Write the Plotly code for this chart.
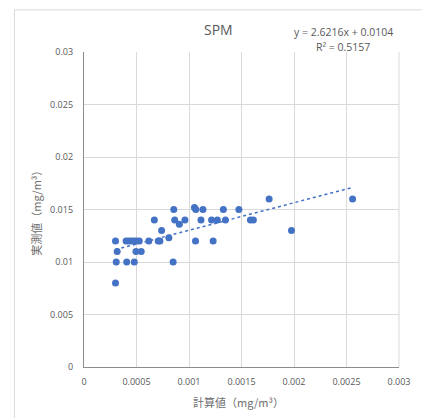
import plotly.graph_objects as go

# Calculated vs. measured SPM concentrations (mg/m3)
x_calc = [0.0003, 0.000316, 0.000307, 0.0003, 0.000401, 0.000426, 0.000451,
          0.000476, 0.000501, 0.000526, 0.000407, 0.000479, 0.000495, 0.000545,
          0.000617, 0.00067, 0.000707, 0.000723, 0.000739, 0.000808, 0.000849,
          0.000855, 0.000864, 0.000908, 0.000961, 0.001052, 0.001065, 0.001062,
          0.001133, 0.001114, 0.00123, 0.001215, 0.00127, 0.001347, 0.001327,
          0.001475, 0.001585, 0.001613, 0.001763, 0.001976, 0.002558]
y_meas = [0.012, 0.011, 0.010, 0.008, 0.012, 0.012, 0.012,
          0.012, 0.012, 0.012, 0.010, 0.010, 0.011, 0.011,
          0.012, 0.014, 0.012, 0.012, 0.013, 0.0123, 0.010,
          0.015, 0.014, 0.0136, 0.014, 0.0152, 0.015, 0.012,
          0.015, 0.014, 0.012, 0.014, 0.014, 0.014, 0.015,
          0.015, 0.014, 0.014, 0.016, 0.013, 0.016]

# Linear trendline coefficients
slope = 2.6216
intercept = 0.0104
r_squared = 0.5157

x_ticks = [0, 0.0005, 0.001, 0.0015, 0.002, 0.0025, 0.003]
x_ticktext = ["0", "0.0005", "0.001", "0.0015", "0.002", "0.0025", "0.003"]
y_ticks = [0, 0.005, 0.01, 0.015, 0.02, 0.025, 0.03]
y_ticktext = ["0", "0.005", "0.01", "0.015", "0.02", "0.025", "0.03"]

BLUE = "#4472C4"
TEXT = "#595959"
TITLE_TEXT = "#6e6e6e"
GRID = "#d9d9d9"
FONT = "Open Sans, Noto Sans CJK JP, sans-serif"
JP_FONT = "Noto Sans CJK JP, sans-serif"

W, H = 422, 418
L, R, T, B = 84, 403.3, 51.7, 367.3


def px_x(px):
    return (px - L) / (R - L)


def px_y(py):
    return (B - py) / (B - T)


trend_x = [min(x_calc), max(x_calc)]
trend_y = [slope * v + intercept for v in trend_x]

fig = go.Figure()
fig.add_trace(go.Scatter(
    x=trend_x, y=trend_y, mode="lines",
    line=dict(color=BLUE, width=1.5, dash="dot"),
    hoverinfo="skip", showlegend=False,
))
fig.add_trace(go.Scatter(
    x=x_calc, y=y_meas, mode="markers",
    marker=dict(color=BLUE, size=7, line=dict(width=0)),
    showlegend=False,
))

fig.update_layout(
    width=W, height=H,
    margin=dict(l=L, r=W - R, t=T, b=H - B),
    paper_bgcolor="white", plot_bgcolor="white",
    font=dict(family=FONT, color=TEXT, size=9),
    xaxis=dict(
        range=[0, 0.003], tickvals=x_ticks, ticktext=x_ticktext,
        showgrid=True, gridcolor=GRID, gridwidth=1,
        showline=True, linecolor="#8c8c8c", linewidth=1.3,
        zeroline=False, ticks="", ticklabelstandoff=6,
        tickfont=dict(size=9, color=TEXT, family=FONT),
        fixedrange=True,
    ),
    yaxis=dict(
        range=[0, 0.03], tickvals=y_ticks, ticktext=y_ticktext,
        showgrid=True, gridcolor=GRID, gridwidth=1,
        showline=True, linecolor="#8c8c8c", linewidth=1.3,
        zeroline=False, ticks="", ticklabelstandoff=8,
        tickfont=dict(size=9, color=TEXT, family=FONT),
        fixedrange=True,
    ),
    shapes=[
        # outer chart border
        dict(type="rect", xref="paper", yref="paper",
             x0=px_x(13.5), x1=px_x(440), y0=px_y(440), y1=px_y(9.5),
             line=dict(color=GRID, width=1), fillcolor="rgba(0,0,0,0)",
             layer="below"),
        # right edge of the plot frame
        dict(type="line", xref="paper", yref="paper", x0=1, x1=1, y0=0, y1=1,
             line=dict(color=GRID, width=1), layer="below"),
    ],
    annotations=[
        dict(text="SPM", xref="paper", yref="paper",
             x=px_x(220), y=px_y(29.5), xanchor="center", yanchor="middle",
             showarrow=False, font=dict(size=14, color=TEXT, family=FONT)),
        dict(text=f"y = {slope}x + {intercept}", xref="paper", yref="paper",
             x=px_x(347), y=px_y(31.7), xanchor="center", yanchor="middle",
             showarrow=False, font=dict(size=10.5, color=TEXT, family=FONT)),
        dict(text=f"R² = {r_squared}", xref="paper", yref="paper",
             x=px_x(347), y=px_y(46.5), xanchor="center", yanchor="middle",
             showarrow=False, font=dict(size=10.5, color=TEXT, family=FONT)),
        dict(text="計算値（mg/m³）", xref="paper", yref="paper",
             x=px_x(241), y=px_y(402), xanchor="center", yanchor="middle",
             showarrow=False, font=dict(size=11, color=TITLE_TEXT, family=JP_FONT)),
        dict(text="実測値（mg/m³）", xref="paper", yref="paper",
             x=px_x(35), y=px_y(210), xanchor="center", yanchor="middle",
             textangle=-90, showarrow=False,
             font=dict(size=11, color=TITLE_TEXT, family=JP_FONT)),
    ],
)

fig.write_html("out.html")
